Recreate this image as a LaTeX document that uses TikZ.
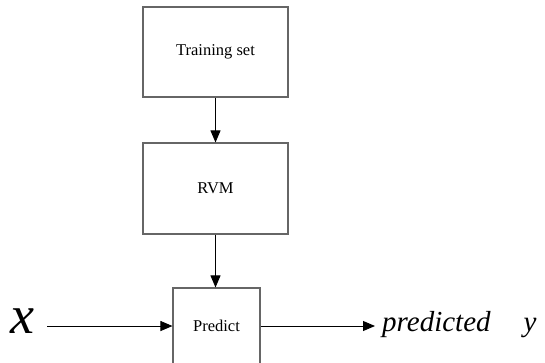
\documentclass[tikz,border=0pt]{standalone}
\usepackage{fontspec}
\setmainfont{Liberation Serif}
\usetikzlibrary{arrows.meta}
\begin{document}
\begin{tikzpicture}[x=1pt,y=-1pt,
  box/.style={draw=black!60,line width=1.1pt,inner sep=0pt,font=\fontsize{16.5}{19}\selectfont},
  link/.style={draw=black,line width=0.9pt,-{Triangle[length=12pt,width=10pt]}}]
\useasboundingbox (0,0) rectangle (545,362);
% processing stages
\node[box,minimum width=145pt,minimum height=90pt] (train) at (215.5,52) {Training set};
\node[box,minimum width=145pt,minimum height=91pt] (rvm) at (215.5,188.5) {RVM};
\node[box,minimum width=87pt,minimum height=96pt] (pred) at (216.5,336) {};
\node[font=\fontsize{16.5}{19}\selectfont] (predtxt) at (216.5,326) {Predict};
% input and output
\node[font=\fontsize{54}{54}\itshape,anchor=center] (x) at (22,321) {x};
\node[font=\fontsize{29}{32}\itshape,anchor=west,inner sep=0pt] (out) at (382,325) {predicted\hspace{33pt}y};
\coordinate (in) at (47,326);
\coordinate (tip) at (375,326);
% connectors
\draw[link] (train) -- (rvm);
\draw[link] (rvm.south) -- (rvm.south |- pred.north);
\draw[link] (in) -- (pred.west |- in);
\draw[link] (pred.east |- in) -- (tip);
\end{tikzpicture}
\end{document}
